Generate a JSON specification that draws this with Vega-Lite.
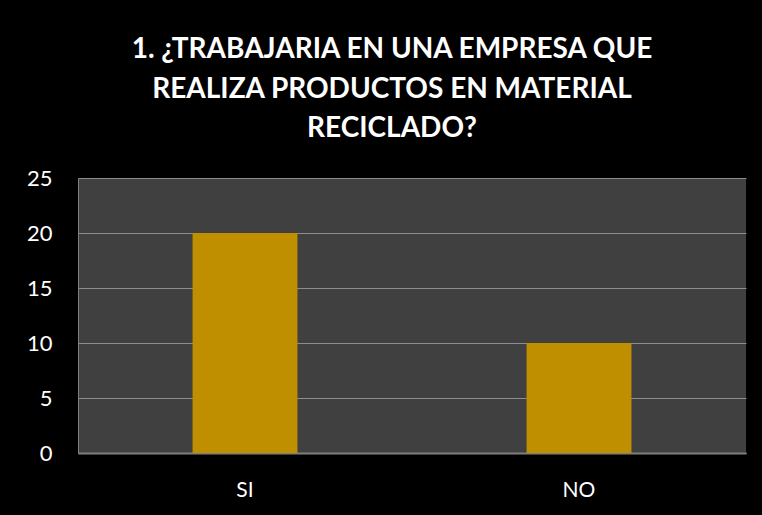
{
  "$schema": "https://vega.github.io/schema/vega-lite/v6.json",
  "width": 668,
  "height": 275,
  "autosize": {"type": "none"},
  "padding": {"left": 78, "top": 178, "right": 16, "bottom": 62},
  "background": "#000000",
  "data": {"values": [
    {"respuesta": "SI", "cantidad": 20},
    {"respuesta": "NO", "cantidad": 10}
  ]},
  "title": {
    "text": ["1. ¿TRABAJARIA EN UNA EMPRESA QUE", "REALIZA PRODUCTOS EN MATERIAL", "RECICLADO?"],
    "anchor": "middle",
    "frame": "group",
    "dx": -20,
    "offset": 24,
    "font": "Lato",
    "fontSize": 28,
    "fontWeight": "bold",
    "color": "#ffffff",
    "lineHeight": 39.5
  },
  "mark": {"type": "bar", "color": "#BF8F00"},
  "encoding": {
    "x": {
      "field": "respuesta",
      "type": "nominal",
      "sort": ["SI", "NO"],
      "scale": {"paddingInner": 0.686, "paddingOuter": 0.343},
      "axis": {
        "title": null,
        "labelAngle": 0,
        "ticks": false,
        "labelPadding": 26,
        "labelFont": "Lato",
        "labelFontSize": 21,
        "labelColor": "#ffffff",
        "domainColor": "#7f7f7f",
        "domainWidth": 2,
        "grid": false
      }
    },
    "y": {
      "field": "cantidad",
      "type": "quantitative",
      "scale": {"domain": [0, 25]},
      "axis": {
        "title": null,
        "values": [0, 5, 10, 15, 20, 25],
        "ticks": false,
        "labelPadding": 26,
        "labelFont": "Lato",
        "labelFontSize": 22,
        "labelColor": "#ffffff",
        "domainColor": "#7f7f7f",
        "gridColor": "#8c8c8c",
        "gridWidth": 1
      }
    }
  },
  "config": {
    "view": {"fill": "#404040", "stroke": null}
  }
}
